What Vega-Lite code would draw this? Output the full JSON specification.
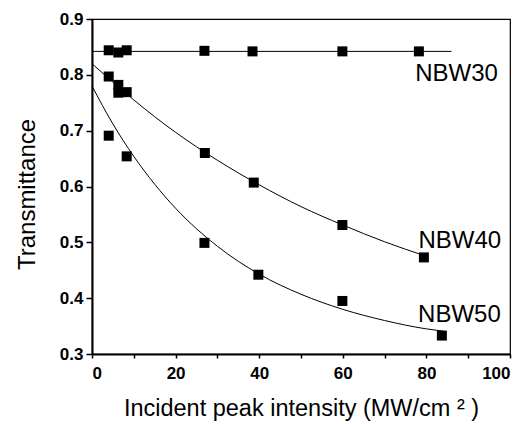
{
  "$schema": "https://vega.github.io/schema/vega-lite/v6.json",
  "width": 418,
  "height": 335,
  "autosize": "none",
  "padding": {"left": 92, "top": 19, "right": 22, "bottom": 70},
  "background": "white",
  "config": {
    "view": {"stroke": "black", "strokeWidth": 1.2},
    "font": "Liberation Sans",
    "axis": {"grid": false, "labelFont": "Liberation Sans", "titleFont": "Liberation Sans"}
  },
  "datasets": {
    "points": [
      {"series": "NBW30", "x": 4.0, "y": 0.844},
      {"series": "NBW30", "x": 6.3, "y": 0.840},
      {"series": "NBW30", "x": 8.3, "y": 0.844},
      {"series": "NBW30", "x": 26.9, "y": 0.843},
      {"series": "NBW30", "x": 38.4, "y": 0.842},
      {"series": "NBW30", "x": 59.9, "y": 0.842},
      {"series": "NBW30", "x": 78.2, "y": 0.842},
      {"series": "NBW40", "x": 4.0, "y": 0.797},
      {"series": "NBW40", "x": 6.3, "y": 0.782},
      {"series": "NBW40", "x": 6.3, "y": 0.768},
      {"series": "NBW40", "x": 8.3, "y": 0.769},
      {"series": "NBW40", "x": 27.0, "y": 0.660},
      {"series": "NBW40", "x": 38.7, "y": 0.607},
      {"series": "NBW40", "x": 59.9, "y": 0.531},
      {"series": "NBW40", "x": 79.4, "y": 0.473},
      {"series": "NBW50", "x": 4.0, "y": 0.691},
      {"series": "NBW50", "x": 8.3, "y": 0.654},
      {"series": "NBW50", "x": 26.9, "y": 0.499},
      {"series": "NBW50", "x": 39.8, "y": 0.442},
      {"series": "NBW50", "x": 59.9, "y": 0.395},
      {"series": "NBW50", "x": 83.7, "y": 0.333}
    ],
    "curves": [
      {"series": "NBW30", "x": 0, "y": 0.842},
      {"series": "NBW30", "x": 86, "y": 0.842},
      {"series": "NBW40", "x": 0, "y": 0.820},
      {"series": "NBW40", "x": 5, "y": 0.787},
      {"series": "NBW40", "x": 10, "y": 0.755},
      {"series": "NBW40", "x": 20, "y": 0.697},
      {"series": "NBW40", "x": 30, "y": 0.647},
      {"series": "NBW40", "x": 40, "y": 0.603},
      {"series": "NBW40", "x": 50, "y": 0.564},
      {"series": "NBW40", "x": 60, "y": 0.531},
      {"series": "NBW40", "x": 70, "y": 0.501},
      {"series": "NBW40", "x": 80, "y": 0.475},
      {"series": "NBW50", "x": 0, "y": 0.780},
      {"series": "NBW50", "x": 5, "y": 0.712},
      {"series": "NBW50", "x": 10, "y": 0.654},
      {"series": "NBW50", "x": 15, "y": 0.604},
      {"series": "NBW50", "x": 20, "y": 0.561},
      {"series": "NBW50", "x": 30, "y": 0.493},
      {"series": "NBW50", "x": 40, "y": 0.443},
      {"series": "NBW50", "x": 50, "y": 0.407},
      {"series": "NBW50", "x": 60, "y": 0.380},
      {"series": "NBW50", "x": 70, "y": 0.360},
      {"series": "NBW50", "x": 80, "y": 0.345},
      {"series": "NBW50", "x": 84, "y": 0.341}
    ],
    "labels": [
      {"text": "NBW30", "x": 87.2, "y": 0.801},
      {"text": "NBW40", "x": 88.0, "y": 0.503},
      {"text": "NBW50", "x": 87.9, "y": 0.370}
    ]
  },
  "layer": [
    {
      "data": {"name": "curves"},
      "mark": {"type": "line", "color": "black", "strokeWidth": 1, "interpolate": "monotone"},
      "encoding": {
        "x": {"field": "x", "type": "quantitative", "scale": {"domain": [0, 100], "nice": false},
          "axis": {"orient": "bottom", "values": [0, 10, 20, 30, 40, 50, 60, 70, 80, 90, 100],
            "labelExpr": "datum.value % 20 == 0 ? datum.label : ''",
            "tickSize": 4, "tickWidth": 1.5, "tickColor": "black",
            "domainColor": "black", "domainWidth": 2, "labelFontSize": 17, "labelFontWeight": "bold", "labelColor": "black", "labelPadding": 7,
            "title": "Incident peak intensity (MW/cm ² )", "titleFontSize": 23.5, "titleFontWeight": "normal", "titleColor": "black", "titlePadding": 15}},
        "y": {"field": "y", "type": "quantitative", "scale": {"domain": [0.3, 0.9], "nice": false, "zero": false},
          "axis": {"orient": "left", "values": [0.3, 0.35, 0.4, 0.45, 0.5, 0.55, 0.6, 0.65, 0.7, 0.75, 0.8, 0.85, 0.9],
            "labelExpr": "abs(datum.value * 10 - round(datum.value * 10)) < 0.01 ? format(datum.value, '.1f') : ''",
            "tickSize": 6, "tickWidth": 1.5, "tickColor": "black",
            "domainColor": "black", "domainWidth": 2, "labelFontSize": 17, "labelFontWeight": "bold", "labelColor": "black", "labelPadding": 3,
            "title": "Transmittance", "titleFontSize": 24, "titleFontWeight": "normal", "titleColor": "black", "titlePadding": 20, "titleY": 175}},
        "detail": {"field": "series"}
      }
    },
    {
      "data": {"name": "points"},
      "mark": {"type": "square", "color": "black", "filled": true, "opacity": 1, "size": 100},
      "encoding": {
        "x": {"field": "x", "type": "quantitative"},
        "y": {"field": "y", "type": "quantitative"}
      }
    },
    {
      "data": {"name": "labels"},
      "mark": {"type": "text", "font": "Liberation Sans", "fontSize": 24, "color": "black", "align": "center", "baseline": "middle"},
      "encoding": {
        "x": {"field": "x", "type": "quantitative"},
        "y": {"field": "y", "type": "quantitative"},
        "text": {"field": "text"}
      }
    }
  ]
}
